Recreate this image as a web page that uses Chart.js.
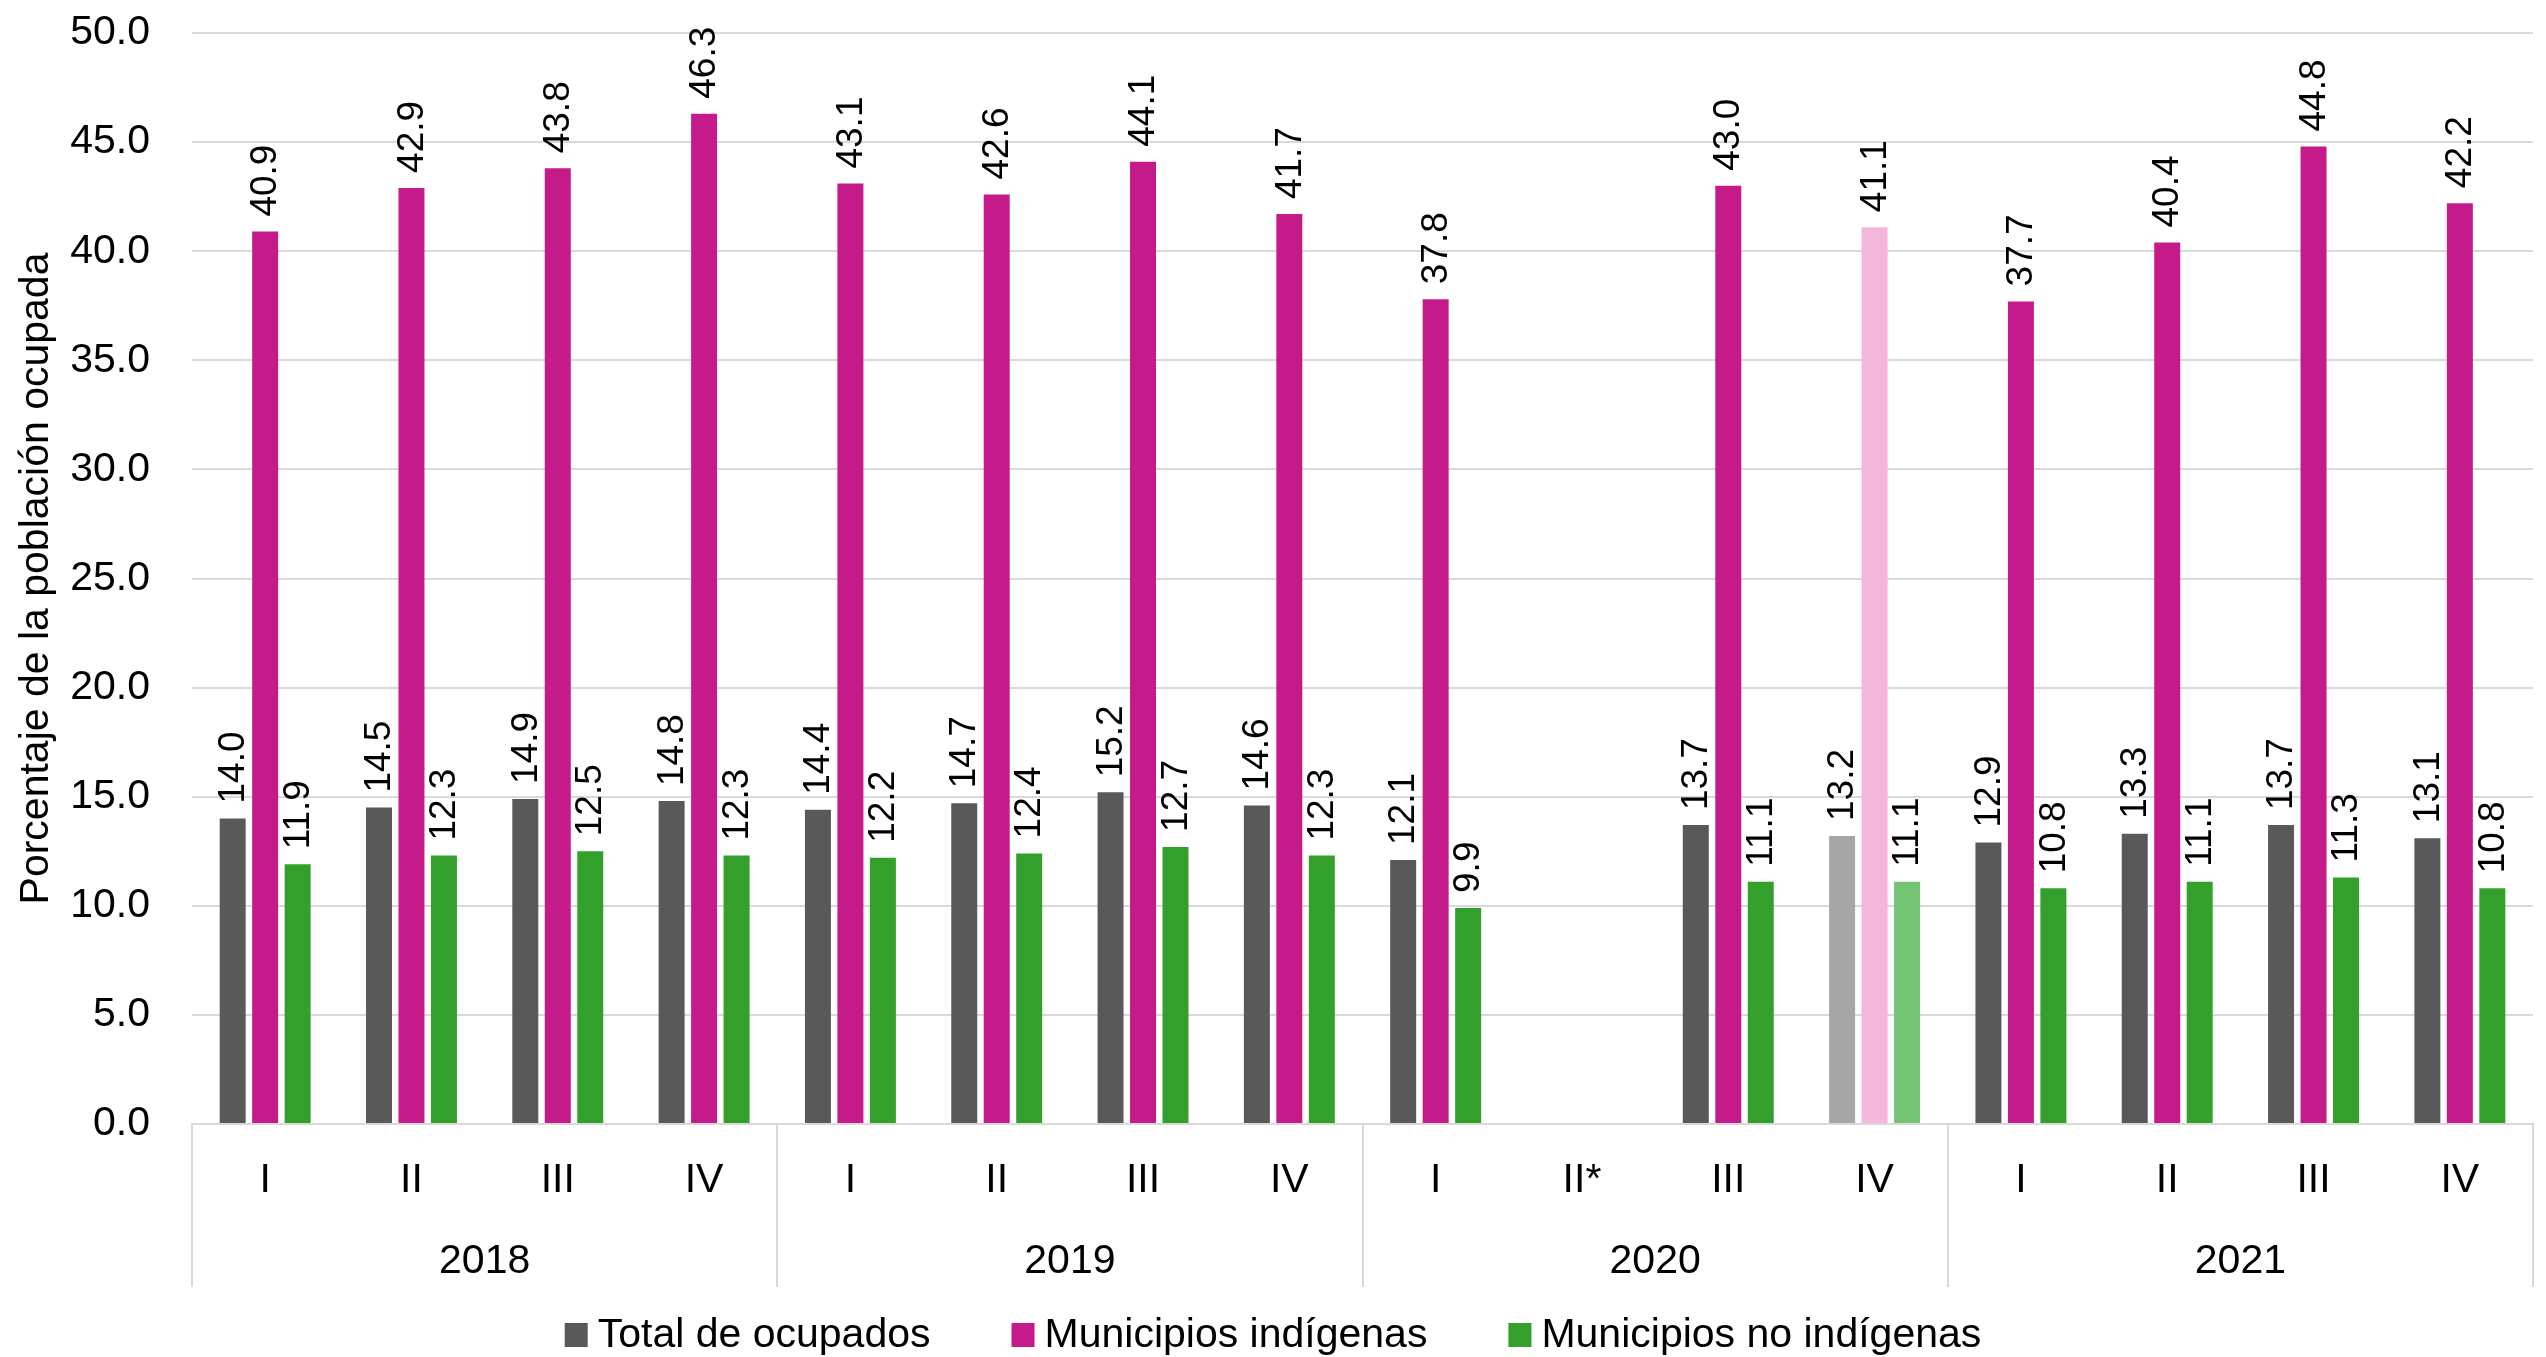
<!DOCTYPE html>
<html>
<head>
<meta charset="utf-8">
<script src="https://cdn.jsdelivr.net/npm/chart.js@4.4.1/dist/chart.umd.min.js"></script>
<style>
  html, body { margin: 0; padding: 0; background: #ffffff; }
  #wrap { width: 2546px; height: 1357px; position: relative; }
</style>
</head>
<body>
<div id="wrap"><canvas id="c"></canvas></div>
<script>
// ---- Data ----
const quarterLabels = ['I', 'II', 'III', 'IV', 'I', 'II', 'III', 'IV', 'I', 'II*', 'III', 'IV', 'I', 'II', 'III', 'IV'];
const yearLabels = ['2018', '2019', '2020', '2021'];
const seriesNames = ['Total de ocupados', 'Municipios indígenas', 'Municipios no indígenas'];
const totalOcupados = [14.0, 14.5, 14.9, 14.8, 14.4, 14.7, 15.2, 14.6, 12.1, null, 13.7, 13.2, 12.9, 13.3, 13.7, 13.1];
const municipiosIndigenas = [40.9, 42.9, 43.8, 46.3, 43.1, 42.6, 44.1, 41.7, 37.8, null, 43.0, 41.1, 37.7, 40.4, 44.8, 42.2];
const municipiosNoIndigenas = [11.9, 12.3, 12.5, 12.3, 12.2, 12.4, 12.7, 12.3, 9.9, null, 11.1, 11.1, 10.8, 11.1, 11.3, 10.8];
const yMin = 0, yMax = 50, yStep = 5;

// ---- Style ----
const FONT = "'Liberation Sans', Arial, sans-serif";
const darkColors = ['#595959', '#C51B8A', '#33A02C'];
const lightColors = ['#A6A6A6', '#F5B6DC', '#74C476'];
const lightIndex = 11; // 2020 IV shown in lighter tones
const quartersPerYear = 4;

function colorFor(seriesIdx) {
  return (ctx) => ctx.dataIndex === lightIndex ? lightColors[seriesIdx] : darkColors[seriesIdx];
}

const valueLabels = {
  id: 'valueLabels',
  afterDatasetsDraw(chart) {
    const ctx = chart.ctx;
    ctx.save();
    ctx.font = '37px ' + FONT;
    ctx.fillStyle = '#000000';
    ctx.textAlign = 'left';
    ctx.textBaseline = 'middle';
    chart.data.datasets.forEach((ds, i) => {
      const meta = chart.getDatasetMeta(i);
      meta.data.forEach((bar, j) => {
        const v = ds.data[j];
        if (v === null || v === undefined) return;
        ctx.save();
        ctx.translate(bar.x + 1, bar.y - 15);
        ctx.rotate(-Math.PI / 2);
        ctx.fillText(v.toFixed(1), 0, 0);
        ctx.restore();
      });
    });
    ctx.restore();
  }
};

const yearSeparators = {
  id: 'yearSeparators',
  afterDraw(chart) {
    const x = chart.scales.x, x2 = chart.scales.x2;
    const ctx = chart.ctx;
    const n = quarterLabels.length;
    const xs = [x.left];
    for (let k = quartersPerYear; k < n; k += quartersPerYear) {
      xs.push((x.getPixelForValue(k - 1) + x.getPixelForValue(k)) / 2);
    }
    xs.push(x.right);
    ctx.save();
    ctx.strokeStyle = '#d9d9d9';
    ctx.lineWidth = 2;
    const y0 = chart.chartArea.bottom, y1 = x2.bottom - 3;
    xs.forEach(px => {
      ctx.beginPath();
      ctx.moveTo(Math.round(px), y0);
      ctx.lineTo(Math.round(px), y1);
      ctx.stroke();
    });
    ctx.restore();
  }
};

const bottomLegend = {
  id: 'bottomLegend',
  afterDraw(chart) {
    const ctx = chart.ctx;
    ctx.save();
    ctx.font = '41px ' + FONT;
    const boxW = 23, boxH = 24, gapBox = 10, gapItem = 81;
    const items = chart.data.datasets.map((ds, i) => ({ text: ds.label, color: darkColors[i], w: ctx.measureText(ds.label).width }));
    let total = 0;
    items.forEach((it, i) => { total += boxW + gapBox + it.w + (i < items.length - 1 ? gapItem : 0); });
    let cx = chart.width / 2 - total / 2;
    const base = chart.height - 10;
    ctx.textBaseline = 'alphabetic';
    ctx.textAlign = 'left';
    items.forEach(it => {
      ctx.fillStyle = it.color;
      ctx.fillRect(cx, base - boxH, boxW, boxH);
      ctx.fillStyle = '#000000';
      ctx.fillText(it.text, cx + boxW + gapBox, base);
      cx += boxW + gapBox + it.w + gapItem;
    });
    ctx.restore();
  }
};

const seriesData = [totalOcupados, municipiosIndigenas, municipiosNoIndigenas];

new Chart(document.getElementById('c'), {
  type: 'bar',
  data: {
    labels: quarterLabels,
    datasets: seriesData.map((d, i) => ({
      label: seriesNames[i],
      data: d,
      backgroundColor: colorFor(i),
      borderWidth: 0,
      categoryPercentage: 0.666,
      barPercentage: 0.8,
      xAxisID: 'x',
      yAxisID: 'y'
    }))
  },
  options: {
    responsive: true,
    maintainAspectRatio: false,
    devicePixelRatio: 1,
    animation: false,
    layout: { padding: { top: 33, right: 13, bottom: 67, left: 0 } },
    plugins: {
      legend: { display: false },
      tooltip: { enabled: false },
      title: { display: false }
    },
    scales: {
      y: {
        min: yMin,
        max: yMax,
        ticks: {
          stepSize: yStep,
          font: { family: FONT, size: 41 },
          color: '#000000',
          padding: 42,
          callback: (v) => Number(v).toFixed(1)
        },
        grid: { color: '#d9d9d9', lineWidth: 2, drawTicks: false },
        border: { display: false },
        title: {
          display: true,
          text: 'Porcentaje de la población ocupada',
          font: { family: FONT, size: 41 },
          color: '#000000',
          padding: { top: 12, bottom: 0 }
        },
        afterFit(scale) { scale.width = 192; scale.paddingTop = 0; scale.paddingBottom = 0; }
      },
      x: {
        type: 'category',
        position: 'bottom',
        weight: 0,
        offset: true,
        grid: { display: false, drawTicks: false },
        border: { display: true, color: '#d9d9d9', width: 2 },
        ticks: {
          font: { family: FONT, size: 41 },
          color: '#000000',
          padding: 32,
          maxRotation: 0,
          autoSkip: false
        },
        afterFit(scale) { scale.height = 80; }
      },
      x2: {
        type: 'category',
        labels: yearLabels,
        position: 'bottom',
        weight: 1,
        offset: true,
        grid: { display: false, drawTicks: false },
        border: { display: false },
        ticks: {
          font: { family: FONT, size: 41 },
          color: '#000000',
          padding: 33,
          maxRotation: 0,
          autoSkip: false
        },
        afterFit(scale) { scale.height = 86; }
      }
    }
  },
  plugins: [valueLabels, yearSeparators, bottomLegend]
});
</script>
</body>
</html>
